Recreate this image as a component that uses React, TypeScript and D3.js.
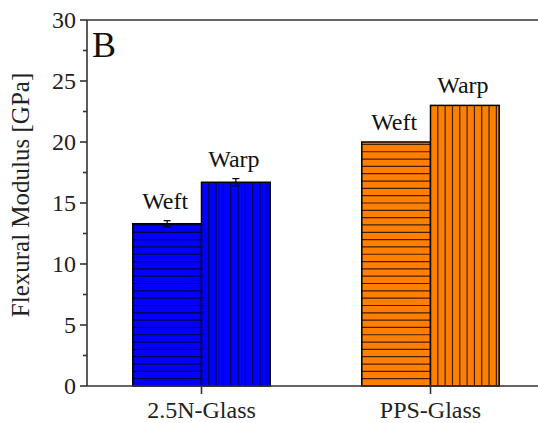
import React, { useEffect, useRef } from "react";
import * as d3 from "d3";

const categories = ["2.5N-Glass", "PPS-Glass"];
const series = ["Weft", "Warp"];
const weftValues = [13.3, 20.0];
const weftErrors = [0.25, 0];
const warpValues = [16.7, 23.0];
const warpErrors = [0.3, 0];
const colors = ["#0000FF", "#FF8000"];
const yTicks = [0, 5, 10, 15, 20, 25, 30];
const yMinorTicks = [2.5, 7.5, 12.5, 17.5, 22.5, 27.5];

const W = 538;
const H = 423;
const left = 87;
const top = 20;
const bottom = 386;
const FONT = "Liberation Serif";

export default function App() {
  const ref = useRef<SVGSVGElement>(null);

  useEffect(() => {
    const svg = d3.select(ref.current);
    svg.selectAll("*").remove();
    const x = d3.scaleLinear().domain([0.5, 2.5]).range([left, left + 458]);
    const y = d3.scaleLinear().domain([0, 30]).range([bottom, top]);
    const barW = x(1.3) - x(1);
    const step = 7.32;

    const bars: any[] = [];
    categories.forEach((c, i) => {
      const cx = x(i + 1);
      bars.push({ x0: cx - barW, x1: cx, v: weftValues[i], e: weftErrors[i], color: colors[i], dir: "h", label: series[0] });
      bars.push({ x0: cx, x1: cx + barW, v: warpValues[i], e: warpErrors[i], color: colors[i], dir: "v", label: series[1] });
    });

    bars.forEach((b) => {
      const g = svg.append("g");
      const yt = y(b.v);
      g.append("rect").attr("x", b.x0).attr("y", yt).attr("width", b.x1 - b.x0).attr("height", bottom - yt).attr("fill", b.color);
      if (b.dir === "h") {
        d3.range(bottom - step, yt + 1, -step).forEach((yy) => {
          g.append("line").attr("x1", b.x0).attr("x2", b.x1).attr("y1", yy).attr("y2", yy)
            .attr("stroke", "#000").attr("stroke-opacity", 0.75).attr("stroke-width", 1.2);
        });
      } else {
        d3.range(b.x0 + step, b.x1 - 1, step).forEach((xx) => {
          g.append("line").attr("x1", xx).attr("x2", xx).attr("y1", yt).attr("y2", bottom)
            .attr("stroke", "#000").attr("stroke-opacity", 0.75).attr("stroke-width", 1.2);
        });
      }
      g.append("rect").attr("x", b.x0).attr("y", yt).attr("width", b.x1 - b.x0).attr("height", bottom - yt)
        .attr("fill", "none").attr("stroke", "#000").attr("stroke-width", 1.5);
      const cx = (b.x0 + b.x1) / 2;
      if (b.e > 0) {
        const eg = g.append("g").attr("stroke", "#000").attr("stroke-width", 1.2);
        eg.append("line").attr("x1", cx).attr("x2", cx).attr("y1", y(b.v + b.e)).attr("y2", y(b.v - b.e));
        eg.append("line").attr("x1", cx - 3.5).attr("x2", cx + 3.5).attr("y1", y(b.v + b.e)).attr("y2", y(b.v + b.e));
        eg.append("line").attr("x1", cx - 3.5).attr("x2", cx + 3.5).attr("y1", y(b.v - b.e)).attr("y2", y(b.v - b.e));
      }
      g.append("text").attr("x", cx - 2).attr("y", y(b.v + b.e) - 12).attr("text-anchor", "middle")
        .style("font-family", `"${FONT}"`).attr("font-size", 24).attr("fill", "#111").text(b.label);
    });

    const ax = svg.append("g").attr("stroke", "#333").attr("stroke-width", 1.6);
    ax.append("line").attr("x1", left).attr("x2", W).attr("y1", top).attr("y2", top);
    ax.append("line").attr("x1", left).attr("x2", W).attr("y1", bottom).attr("y2", bottom);
    ax.append("line").attr("x1", left).attr("x2", left).attr("y1", top).attr("y2", bottom);
    yTicks.forEach((t) => ax.append("line").attr("x1", left - 7).attr("x2", left).attr("y1", y(t)).attr("y2", y(t)));
    yMinorTicks.forEach((t) => ax.append("line").attr("x1", left - 4).attr("x2", left).attr("y1", y(t)).attr("y2", y(t)));
    categories.forEach((c, i) => ax.append("line").attr("x1", x(i + 1)).attr("x2", x(i + 1)).attr("y1", bottom).attr("y2", bottom + 8));

    yTicks.forEach((t) => {
      svg.append("text").attr("x", 76).attr("y", y(t) + 8).attr("text-anchor", "end")
        .style("font-family", `"${FONT}"`).attr("font-size", 24).attr("fill", "#222").text(String(t));
    });
    categories.forEach((c, i) => {
      svg.append("text").attr("x", x(i + 1)).attr("y", 418).attr("text-anchor", "middle")
        .style("font-family", `"${FONT}"`).attr("font-size", 24).attr("fill", "#222").text(c);
    });
    svg.append("text").attr("transform", "translate(29,195) rotate(-90)").attr("text-anchor", "middle")
      .style("font-family", `"${FONT}"`).attr("font-size", 25).attr("fill", "#222").text("Flexural Modulus [GPa]");
    svg.append("text").attr("x", 92).attr("y", 57)
      .style("font-family", `"${FONT}"`).attr("font-size", 36).attr("fill", "#111").text("B");
  }, []);

  return <svg ref={ref} width={W} height={H} style={{ position: "absolute", left: 0, top: 0 }} />;
}
